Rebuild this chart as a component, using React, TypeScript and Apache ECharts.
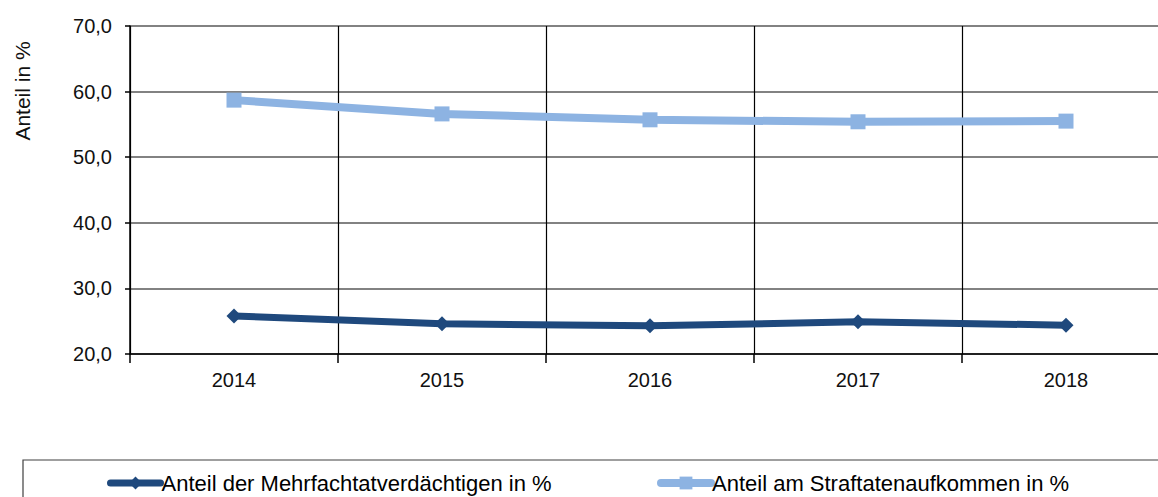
import React, { useEffect, useRef } from "react";
import * as echarts from "echarts";

const years = ["2014", "2015", "2016", "2017", "2018"];
const mehrfach = [25.8, 24.6, 24.3, 24.9, 24.4];
const straftaten = [58.7, 56.6, 55.7, 55.4, 55.5];
const seriesNames = ["Anteil der Mehrfachtatverdächtigen in %", "Anteil am Straftatenaufkommen in %"];
const yAxisTitle = "Anteil in %";

export default function App() {
  const ref = useRef<HTMLDivElement>(null);
  useEffect(() => {
    if (!ref.current) return;
    const chart = echarts.init(ref.current, null, { renderer: "svg" });
    const font = "'Liberation Sans', Arial, sans-serif";
    const legendText = { fontSize: 22, fontFamily: font, color: "#000", padding: [0, 0, 0, -4] };
    chart.setOption({
      animation: false,
      backgroundColor: "#ffffff",
      grid: { left: 130, top: 26, height: 328, right: 0, containLabel: false },
      xAxis: {
        type: "category",
        data: years,
        boundaryGap: true,
        axisLine: { lineStyle: { color: "#000", width: 1.5 } },
        axisTick: { show: true, interval: 0, length: 9, lineStyle: { color: "#000", width: 1.5 } },
        axisLabel: { color: "#111", fontSize: 20, fontFamily: font, margin: 16 },
        splitLine: { show: true, interval: 0, lineStyle: { color: "#000", width: 1.2 } },
      },
      yAxis: {
        type: "value",
        min: 20,
        max: 70,
        interval: 10,
        axisLine: { show: true, lineStyle: { color: "#000", width: 1.5 } },
        axisTick: { show: true, length: 5, lineStyle: { color: "#000", width: 1.5 } },
        axisLabel: {
          color: "#111",
          fontSize: 20,
          fontFamily: font,
          margin: 18,
          formatter: (v: number) => v.toFixed(1).replace(".", ","),
        },
        splitLine: { show: true, lineStyle: { color: "#828282", width: 1.8 } },
      },
      legend: [
        {
          left: 102,
          top: 467,
          data: [seriesNames[0]],
          itemWidth: 50,
          itemHeight: 16,
          itemGap: 0,
          lineStyle: { width: 7, cap: "round" },
          textStyle: legendText,
        },
        {
          left: 652,
          top: 467,
          data: [seriesNames[1]],
          itemWidth: 50,
          itemHeight: 16,
          itemGap: 0,
          lineStyle: { width: 8, cap: "round" },
          textStyle: legendText,
        },
      ],
      graphic: [
        {
          type: "rect",
          shape: { x: 23, y: 460, width: 1200, height: 100 },
          style: { fill: "none", stroke: "#404040", lineWidth: 1.2 },
          z: -1,
        },
        {
          type: "text",
          x: 22,
          y: 91,
          rotation: Math.PI / 2,
          style: {
            text: yAxisTitle,
            fontSize: 21,
            fontFamily: font,
            fill: "#111",
            align: "center",
            verticalAlign: "middle",
          },
        },
      ],
      series: [
        {
          name: seriesNames[0],
          type: "line",
          data: mehrfach,
          symbol: "diamond",
          symbolSize: 15,
          lineStyle: { color: "#1f497d", width: 7 },
          itemStyle: { color: "#1f497d" },
          z: 3,
        },
        {
          name: seriesNames[1],
          type: "line",
          data: straftaten,
          symbol: "rect",
          symbolSize: 15,
          lineStyle: { color: "#8db3e2", width: 8 },
          itemStyle: { color: "#8db3e2" },
          z: 2,
        },
      ],
    });
    return () => chart.dispose();
  }, []);
  return (
    <div
      ref={ref}
      style={{ position: "fixed", left: 0, top: 0, width: 1170, height: 497, background: "#fff" }}
    />
  );
}
